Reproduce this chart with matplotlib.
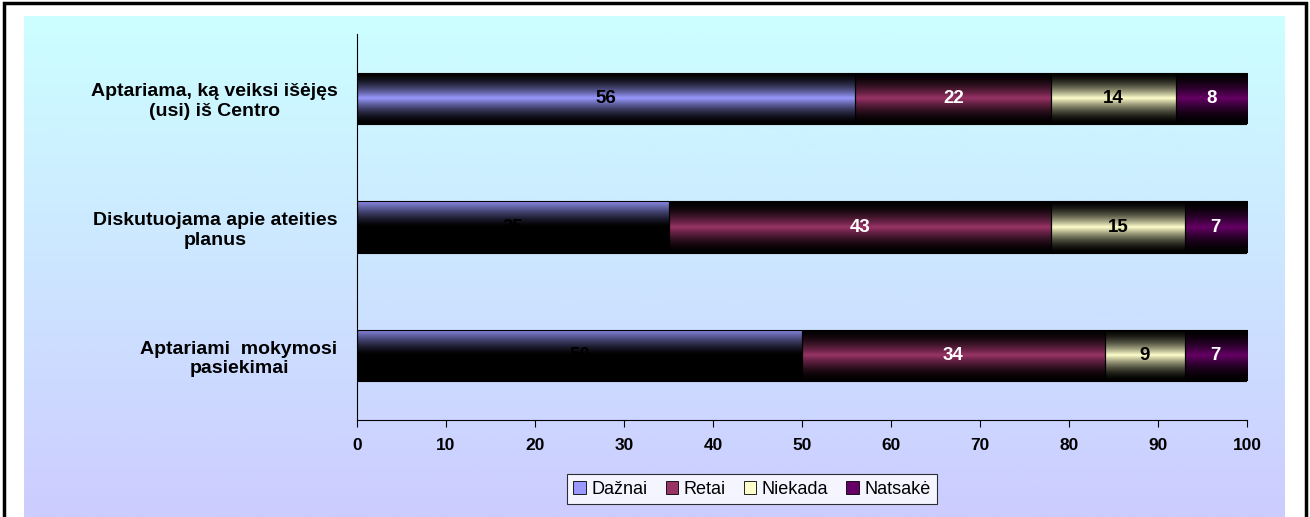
import numpy as np
import matplotlib
matplotlib.use("Agg")
import matplotlib.pyplot as plt
from matplotlib.patches import Rectangle, Patch

plt.rcParams['font.family'] = ['Liberation Sans', 'DejaVu Sans']

# ============================================
# DATA
# ============================================
categories = [
    "Aptariami  mokymosi\npasiekimai",
    "Diskutuojama apie ateities\nplanus",
    "Aptariama, ką veiksi išėjęs\n(usi) iš Centro",
]
series_names = ["Dažnai", "Retai", "Niekada", "Natsakė"]
daznai = [50, 35, 56]
retai = [34, 43, 22]
niekada = [9, 15, 14]
natsake = [7, 7, 8]
x_ticks = list(range(0, 101, 10))

series = [daznai, retai, niekada, natsake]
colors = ["#9999FF", "#993366", "#FFFFCC", "#660066"]
text_colors = ["black", "white", "black", "white"]

W, H = 1310, 517
fig = plt.figure(figsize=(W / 100, H / 100), dpi=100, facecolor="white")

# ============================================
# BACKGROUND
# ============================================
bg = fig.add_axes([24 / W, 0, 1260 / W, 1 - 16 / H], zorder=-5)
top_c = np.array([0xCC, 0xFF, 0xFF]) / 255
bot_c = np.array([0xCC, 0xCC, 0xFF]) / 255
t = np.linspace(0, 1, 256)[:, None, None]
bg.imshow(top_c * (1 - t) + bot_c * t, aspect="auto", extent=[0, 1, 0, 1])
bg.axis("off")

fig.patches.append(Rectangle((3.5 / W, -0.05), 1302 / W, 1.05 - 2.5 / H,
                             transform=fig.transFigure, fill=False,
                             edgecolor="black", linewidth=2.5))

# ============================================
# BARS
# ============================================
ax = fig.add_axes([357 / W, 1 - 420 / H, 890 / W, 386 / H])
ax.set_facecolor("none")

ypos = np.arange(len(categories))
n = 128
tt = np.linspace(0, 1, n)
sym_profile = (1 - np.abs(2 * tt - 1)) ** 1.7
odd_profile = np.clip(1 - tt / 0.5, 0, 1) ** 1.4 * 0.92

left = np.zeros(len(categories))
for s, (vals, col, tcol) in enumerate(zip(series, colors, text_colors)):
    bars = ax.barh(ypos, vals, left=left, height=0.4, color="none",
                   edgecolor="black", linewidth=0.8, zorder=3)
    base = np.array(matplotlib.colors.to_rgb(col))
    for i, patch in enumerate(bars.patches):
        bb = patch.get_bbox()
        prof = odd_profile if (s == 0 and i < 2) else sym_profile
        img = base[None, None, :] * prof[:, None, None]
        im = ax.imshow(img, extent=[bb.x0, bb.x1, bb.y0, bb.y1],
                       aspect="auto", zorder=2)
        im.set_clip_path(patch)
        ax.text(left[i] + vals[i] / 2, ypos[i], str(vals[i]),
                ha="center", va="center", color=tcol,
                fontsize=13.5, fontweight="bold", zorder=4)
    left = left + np.array(vals)

ax.set_xlim(0, 100)
ax.set_ylim(-0.5, 2.5)
ax.set_xticks(x_ticks)
ax.set_xticklabels([str(v) for v in x_ticks], fontsize=12.5, fontweight="bold")
ax.set_yticks(ypos)
ax.set_yticklabels(categories, fontsize=14, fontweight="bold")
for lab in ax.get_yticklabels():
    lab.set_multialignment("center")
ax.tick_params(axis="y", length=0, pad=14)
ax.tick_params(axis="x", length=5, direction="out", pad=8)
ax.spines["top"].set_visible(False)
ax.spines["right"].set_visible(False)

# ============================================
# LEGEND
# ============================================
handles = [Patch(facecolor=c, edgecolor="black", linewidth=0.6) for c in colors]
leg = fig.legend(handles, series_names, loc="lower center", ncol=4,
                 bbox_to_anchor=(752 / W, 4 / H), fontsize=13,
                 frameon=True, fancybox=False, edgecolor="black",
                 handlelength=0.7, handleheight=0.7, handletextpad=0.3,
                 columnspacing=1.0, borderpad=0.35)
leg.get_frame().set_linewidth(0.8)

fig.savefig("out.png", dpi=100, facecolor="white")
